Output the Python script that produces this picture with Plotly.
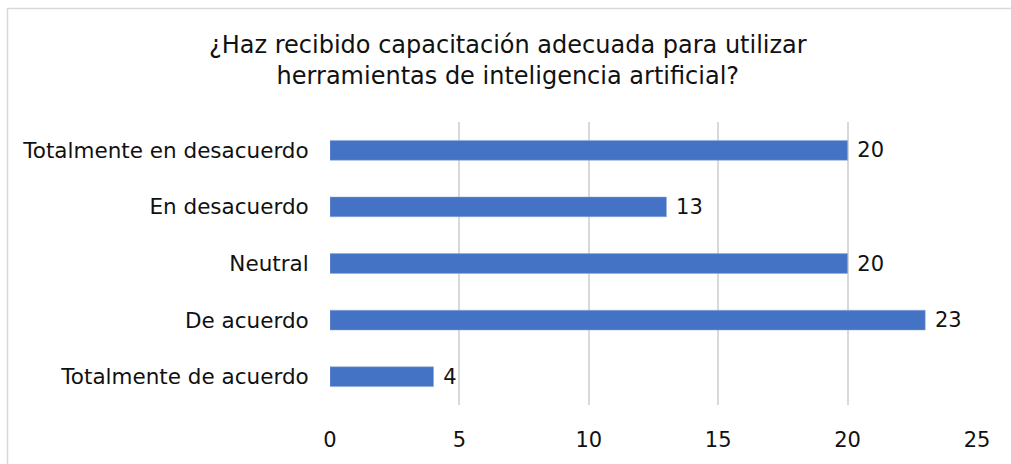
import plotly.graph_objects as go

categories = ["Totalmente en desacuerdo", "En desacuerdo", "Neutral", "De acuerdo", "Totalmente de acuerdo"]
values = [20, 13, 20, 23, 4]
x_ticks = [0, 5, 10, 15, 20, 25]
title_lines = ["¿Haz recibido capacitación adecuada para utilizar",
               "herramientas de inteligencia artificial?"]

FONT = "DejaVu Sans, Verdana, sans-serif"

fig = go.Figure(go.Bar(
    y=categories,
    x=values,
    orientation="h",
    marker=dict(color="#4472C4", line=dict(color="#8EA9DB", width=0.5)),
    width=0.35,
    text=[str(v) for v in values],
    texttemplate=" %{text}",
    textposition="outside",
    constraintext="none",
    textfont=dict(family=FONT, size=21, color="#111111"),
    cliponaxis=False,
))

W, H = 1011, 464
L, R, T, B = 330, 34, 122, 54
pw, ph = W - L - R, H - T - B

def px_x(p):
    return (p - L) / pw

def px_y(p):
    return (H - B - p) / ph

fig.update_layout(
    width=W, height=H,
    margin=dict(l=L, r=R, t=T, b=B),
    paper_bgcolor="white",
    plot_bgcolor="white",
    showlegend=False,
    annotations=[dict(
        text="<br>".join(title_lines), xref="paper", yref="paper",
        x=px_x(508), y=px_y(59), xanchor="center", yanchor="middle",
        align="center", showarrow=False,
        font=dict(family=FONT, size=24, color="#111111"),
    )],
    xaxis=dict(
        range=[0, 25],
        tickvals=x_ticks,
        showgrid=True, gridcolor="#D9D9D9", gridwidth=1.5,
        zeroline=False, showline=False,
        ticks="outside", ticklen=16, tickcolor="rgba(0,0,0,0)",
        tickfont=dict(family=FONT, size=21, color="#111111"),
    ),
    yaxis=dict(
        categoryorder="array", categoryarray=categories[::-1],
        showgrid=False, zeroline=False, showline=False,
        ticks="outside", ticklen=16, tickcolor="rgba(0,0,0,0)",
        tickfont=dict(family=FONT, size=21.5, color="#111111"),
    ),
    shapes=[dict(
        type="rect", xref="paper", yref="paper",
        x0=px_x(7.5), x1=px_x(1030), y0=px_y(6.5), y1=px_y(480),
        line=dict(color="#D9D9D9", width=1.5), fillcolor="rgba(0,0,0,0)",
        layer="below",
    )],
)

fig.write_html(
    "out.html",
    config={"displayModeBar": False},
    post_script="document.body.style.margin='0';document.body.style.overflow='hidden';",
)
